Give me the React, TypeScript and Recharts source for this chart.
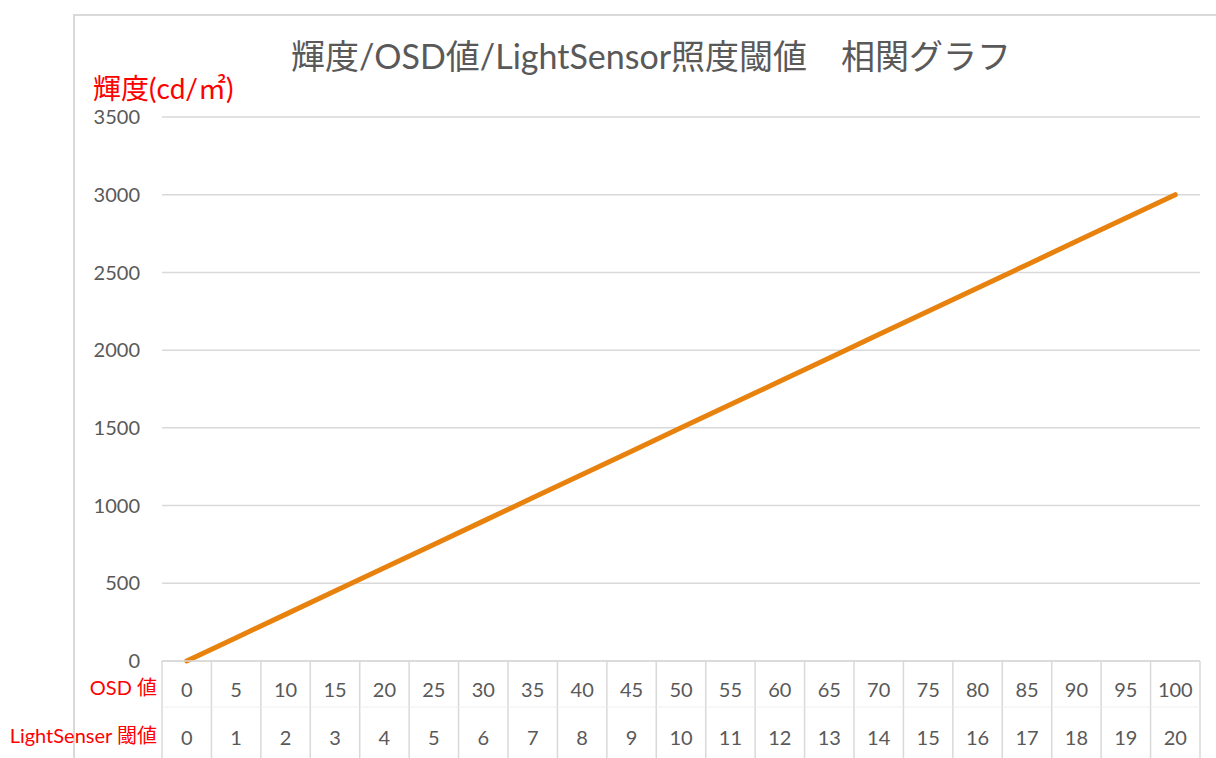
import { CartesianGrid, Customized, Line, LineChart, XAxis, YAxis } from "recharts";

const osdValues = [0, 5, 10, 15, 20, 25, 30, 35, 40, 45, 50, 55, 60, 65, 70, 75, 80, 85, 90, 95, 100];
const lightSensorValues = [0, 1, 2, 3, 4, 5, 6, 7, 8, 9, 10, 11, 12, 13, 14, 15, 16, 17, 18, 19, 20];
const luminanceValues = [0, 150, 300, 450, 600, 750, 900, 1050, 1200, 1350, 1500, 1650, 1800, 1950, 2100, 2250, 2400, 2550, 2700, 2850, 3000];
const yTicks = [0, 500, 1000, 1500, 2000, 2500, 3000, 3500];

const data = osdValues.map((osd, i) => ({ osd: String(osd), ls: lightSensorValues[i], lum: luminanceValues[i] }));

const font = "Lato, 'Noto Sans CJK JP', sans-serif";
const grey = "#595959";
const gridColor = "#d9d9d9";
const W = 1216;
const H = 758;
const halfCell = 1038 / 21 / 2;

function TableTick(props: any) {
  const { x, y, payload, index } = props;
  const half = payload?.offset || halfCell;
  const left = x - half;
  const right = x + half;
  const last = index === osdValues.length - 1;
  return (
    <g>
      <line x1={left} y1={y} x2={left} y2={H} stroke={gridColor} strokeWidth={1.5} />
      {last && <line x1={right} y1={y} x2={right} y2={H} stroke={gridColor} strokeWidth={1.5} />}
      <line x1={left} y1={y + 46} x2={right} y2={y + 46} stroke="#efefef" strokeWidth={1} />
      <text x={x} y={y + 31} textAnchor="middle" dominantBaseline="middle" fill={grey} fontSize={20} fontFamily={font}>
        {payload.value}
      </text>
      <text x={x} y={y + 79} textAnchor="middle" dominantBaseline="middle" fill={grey} fontSize={20} fontFamily={font}>
        {lightSensorValues[index]}
      </text>
      {index === 0 && (
        <>
          <text x={left - 5} y={y + 29} textAnchor="end" dominantBaseline="middle" fill="#ff0000" fontSize={20} fontFamily={font}>
            OSD 値
          </text>
          <text x={left - 5} y={y + 77} textAnchor="end" dominantBaseline="middle" fill="#ff0000" fontSize={20} fontFamily={font}>
            LightSenser 閾値
          </text>
        </>
      )}
    </g>
  );
}

function Decorations() {
  return (
    <g>
      <path d={`M74,${H} L74,15 L${W},15`} fill="none" stroke={gridColor} strokeWidth={2} />
      <text x={651} y={60} textAnchor="middle" dominantBaseline="middle" fill={grey} fontSize={34} fontFamily={font}>
        輝度/OSD値/LightSensor照度閾値　相関グラフ
      </text>
      <text x={93} y={92} dominantBaseline="middle" fill="#ff0000" fontSize={28} fontFamily={font}>
        輝度(cd/㎡)
      </text>
    </g>
  );
}

export default function App() {
  return (
    <div style={{ position: "absolute", left: 0, top: 0, width: W, height: H, background: "#fff" }}>
      <LineChart width={W} height={H} data={data} margin={{ top: 117, right: 16, left: 82, bottom: 0 }}>
        <CartesianGrid vertical={false} stroke={gridColor} strokeWidth={1.5} />
        <XAxis
          dataKey="osd"
          interval={0}
          height={97}
          tickSize={0}
          tickMargin={0}
          padding={{ left: halfCell, right: halfCell }}
          axisLine={{ stroke: gridColor, strokeWidth: 1.5 }}
          tickLine={false}
          tick={<TableTick />}
        />
        <YAxis
          domain={[0, 3500]}
          ticks={yTicks}
          width={80}
          tickSize={0}
          tickMargin={22}
          axisLine={false}
          tickLine={false}
          tick={{ fill: grey, fontSize: 20, fontFamily: font }}
        />
        <Line dataKey="lum" stroke="#e8820e" strokeWidth={5} strokeLinecap="round" dot={false} isAnimationActive={false} />
        <Customized component={Decorations} />
      </LineChart>
    </div>
  );
}
